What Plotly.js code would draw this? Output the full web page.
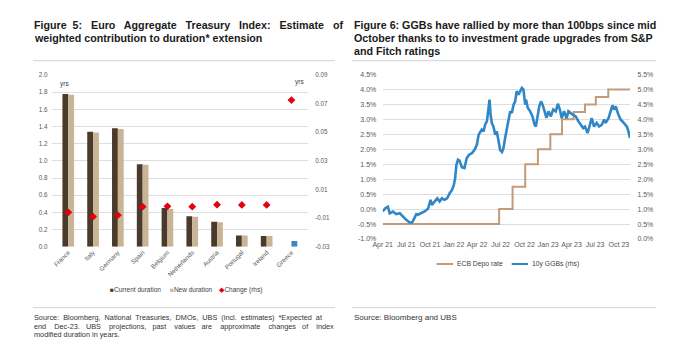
<!DOCTYPE html>
<html><head><meta charset="utf-8">
<script src="https://cdn.plot.ly/plotly-3.0.1.min.js"></script>
<style>html,body{margin:0;padding:0;background:#fff;}#chart{width:700px;height:361px;}</style>
</head><body><div id="chart"></div>
<script>
// ---------- Figure 5 data ----------
const countries = ['France','Italy','Germany','Spain','Belgium','Netherlands','Austria','Portugal','Ireland','Greece'];
const currentDuration = [1.78,1.34,1.38,0.96,0.45,0.355,0.29,0.13,0.125,0];
const newDuration = [1.77,1.33,1.37,0.955,0.44,0.35,0.285,0.13,0.125,0.066];
const changeRhs = [-0.006,-0.009,-0.008,-0.002,-0.0018,-0.002,-0.0006,-0.0008,-0.0008,0.0725];
const leftTickVals = [0,0.2,0.4,0.6,0.8,1.0,1.2,1.4,1.6,1.8,2.0];
const leftTickText = ['0.0','0.2','0.4','0.6','0.8','1.0','1.2','1.4','1.6','1.8','2.0'];
const rhsTickVals = [-0.03,-0.01,0.01,0.03,0.05,0.07,0.09];
const rhsTickText = ['-0.03','-0.01','0.01','0.03','0.05','0.07','0.09'];

// ---------- Figure 6 data ----------
const depoDates = ['2021-04-01','2022-06-25','2022-08-16','2022-10-04','2022-11-22','2023-01-09','2023-02-23','2023-04-09','2023-05-23','2023-07-04','2023-08-21','2023-11-13'];
const depoRate = [-0.5,0,0.75,1.5,2.0,2.5,3.0,3.25,3.5,3.75,4.0,4.0];
const ggbDates = ['2021-04-01','2021-04-11','2021-04-21','2021-04-28','2021-05-11','2021-05-23','2021-06-06','2021-06-18','2021-07-01','2021-07-14','2021-07-24','2021-07-31','2021-08-09','2021-08-15','2021-08-28','2021-09-10','2021-09-23','2021-10-03','2021-10-08','2021-10-18','2021-10-29','2021-11-07','2021-11-16','2021-11-26','2021-12-06','2021-12-16','2021-12-25','2022-01-01','2022-01-06','2022-01-11','2022-01-17','2022-01-23','2022-02-01','2022-02-11','2022-02-20','2022-03-01','2022-03-12','2022-03-22','2022-03-31','2022-04-07','2022-04-13','2022-04-19','2022-04-26','2022-05-02','2022-05-09','2022-05-15','2022-05-19','2022-05-23','2022-05-28','2022-06-03','2022-06-10','2022-06-16','2022-06-23','2022-06-29','2022-07-06','2022-07-12','2022-07-18','2022-07-25','2022-07-31','2022-08-07','2022-08-13','2022-08-20','2022-08-26','2022-09-01','2022-09-08','2022-09-14','2022-09-21','2022-09-27','2022-10-04','2022-10-07','2022-10-14','2022-10-23','2022-11-01','2022-11-09','2022-11-14','2022-11-22','2022-11-27','2022-12-04','2022-12-10','2022-12-18','2022-12-25','2023-01-02','2023-01-11','2023-01-20','2023-01-30','2023-02-07','2023-02-15','2023-02-22','2023-03-03','2023-03-13','2023-03-20','2023-03-29','2023-04-07','2023-04-17','2023-04-28','2023-05-07','2023-05-16','2023-05-23','2023-06-02','2023-06-11','2023-06-18','2023-06-27','2023-07-07','2023-07-17','2023-07-27','2023-08-05','2023-08-11','2023-08-22','2023-08-31','2023-09-06','2023-09-12','2023-09-19','2023-09-29','2023-10-08','2023-10-15','2023-10-25','2023-11-01','2023-11-07','2023-11-13'];
const ggbYield = [0.92,1.03,1.08,0.86,0.92,0.83,0.86,0.75,0.64,0.55,0.55,0.67,0.83,0.81,0.86,0.92,1.01,1.31,1.14,1.25,1.36,1.25,1.36,1.31,1.36,1.53,1.64,1.81,2.03,2.48,2.65,2.62,2.40,2.37,2.71,2.82,2.87,2.98,3.15,3.49,3.60,3.66,3.60,3.82,3.94,4.33,4.66,4.16,3.87,3.76,3.49,3.60,3.32,2.98,2.91,3.04,3.37,3.71,3.99,4.27,4.21,4.49,4.60,4.94,4.83,4.94,5.05,5.00,4.49,4.66,4.38,4.27,4.10,3.82,3.76,4.16,4.43,4.60,4.49,4.27,4.05,4.27,4.10,4.33,4.27,4.52,4.33,4.04,4.27,4.04,4.27,4.21,4.16,4.10,3.93,3.82,3.71,3.76,3.54,3.82,4.04,3.76,3.88,3.76,3.82,3.99,3.88,4.04,4.27,4.47,4.33,4.43,4.16,3.99,3.93,3.82,3.76,3.60,3.38];
const dateTickVals = ['2021-04-01','2021-07-01','2021-10-01','2022-01-01','2022-04-01','2022-07-01','2022-10-01','2023-01-01','2023-04-01','2023-07-01','2023-10-01'];
const dateTickText = ['Apr 21','Jul 21','Oct 21','Jan 22','Apr 22','Jul 22','Oct 22','Jan 23','Apr 23','Jul 23','Oct 23'];
const depoTickVals = [-1,-0.5,0,0.5,1,1.5,2,2.5,3,3.5,4,4.5];
const depoTickText = ['-1.0%','-0.5%','0.0%','0.5%','1.0%','1.5%','2.0%','2.5%','3.0%','3.5%','4.0%','4.5%'];
const ggbTickVals = [0,0.5,1,1.5,2,2.5,3,3.5,4,4.5,5,5.5];
const ggbTickText = ['0.0%','0.5%','1.0%','1.5%','2.0%','2.5%','3.0%','3.5%','4.0%','4.5%','5.0%','5.5%'];

// ---------- styling ----------
const W = 700, H = 361;
const px = x => x / W, py = y => 1 - y / H;
const FONT = 'Liberation Sans, Arial, sans-serif';
const C_CUR = '#4a3a2b', C_NEW = '#c9b495', C_CHG = '#e3000f', C_GR = '#3a87c4';
const C_DEPO = '#c39b79', C_GGB = '#2f87c7';
const GRID = '#dedede', TICK = '#595959';
const NBSP = '\u00A0';

const newColors = countries.map(c => c === 'Greece' ? C_GR : C_NEW);

const traces = [
  {type:'bar', name:'Current duration', x:countries, y:currentDuration, xaxis:'x', yaxis:'y', marker:{color:C_CUR}},
  {type:'bar', name:'New duration', x:countries, y:newDuration, xaxis:'x', yaxis:'y', marker:{color:newColors}},
  {type:'scatter', mode:'markers', name:'Change (rhs)', x:countries, y:changeRhs, xaxis:'x', yaxis:'y2', marker:{symbol:'diamond', size:6, color:C_CHG}},
  {type:'scatter', mode:'lines', name:'ECB Depo rate', x:depoDates, y:depoRate, xaxis:'x3', yaxis:'y3', line:{color:C_DEPO, width:2, shape:'hv'}},
  {type:'scatter', mode:'lines', name:'10y GGBs (rhs)', x:ggbDates, y:ggbYield, xaxis:'x3', yaxis:'y4', line:{color:C_GGB, width:2.6}}
];

function ann(text, x, y, size, opts) {
  return Object.assign({text, x:px(x), y:py(y), xref:'paper', yref:'paper', showarrow:false,
    xanchor:'left', yanchor:'middle', font:{family:FONT, size, color:'#1a1a1a'}}, opts || {});
}
const j = n => NBSP.repeat(n);

const annotations = [
  // Figure 5 title
  ann('<b>Figure'+j(1)+' 5:'+j(2)+' Euro'+j(2)+' Aggregate'+j(2)+' Treasury'+j(2)+' Index:'+j(2)+' Estimate'+j(2)+' of</b>', 32, 24.5, 10.7),
  ann('<b>weighted contribution to duration* extension</b>', 32, 37.5, 10.7),
  // Figure 6 title
  ann('<b>Figure 6: GGBs have rallied by more than 100bps since mid</b>', 352, 24.5, 10.7),
  ann('<b>October thanks to to investment grade upgrades from S&amp;P</b>', 352, 37.5, 10.7),
  ann('<b>and Fitch ratings</b>', 352, 50.5, 10.7),
  // sources
  ann('Source:'+j(1)+' Bloomberg,'+j(1)+' National'+j(1)+' Treasuries,'+j(1)+' DMOs,'+j(1)+' UBS'+j(1)+' (incl.'+j(1)+' estimates)'+j(1)+' *Expected'+j(1)+' at', 32, 317.5, 7.3, {font:{family:FONT,size:7.3,color:'#333'}}),
  ann('end'+j(3)+' Dec-23.'+j(2)+' UBS'+j(3)+' projections,'+j(2)+' past'+j(3)+' values'+j(2)+' are'+j(3)+' approximate'+j(3)+' changes'+j(2)+' of'+j(3)+' index', 32, 326, 7.3, {font:{family:FONT,size:7.3,color:'#333'}}),
  ann('modified duration in years.', 32, 334.5, 7.3, {font:{family:FONT,size:7.3,color:'#333'}}),
  ann('Source: Bloomberg and UBS', 352, 317.5, 8, {font:{family:FONT,size:8,color:'#333'}}),
  // yrs labels
  ann('yrs', 58, 83.5, 6.5, {font:{family:FONT,size:6.5,color:'#404040'}}),
  ann('yrs', 293, 82, 6.5, {font:{family:FONT,size:6.5,color:'#404040'}}),
  // Figure 5 legend
  ann('<span style="color:'+C_CUR+'">■</span>Current duration'+j(5)+'<span style="color:'+C_NEW+'">■</span>New duration'+j(4)+'<span style="color:'+C_CHG+'">◆</span>Change (rhs)',
      186, 290, 6.5, {xanchor:'center', font:{family:FONT,size:6.5,color:'#404040'}}),
  // Figure 6 legend texts
  ann('ECB Depo rate', 455, 264, 6.8, {font:{family:FONT,size:6.8,color:'#404040'}}),
  ann('10y GGBs (rhs)', 530, 264, 6.8, {font:{family:FONT,size:6.8,color:'#404040'}})
];

function hline(x0, x1, y, color, width) {
  return {type:'line', xref:'paper', yref:'paper', x0:px(x0), x1:px(x1), y0:py(y), y1:py(y), line:{color, width}};
}
const shapes = [
  hline(33, 335, 60.7, '#d4d4d4', 1),
  hline(33, 335, 307.7, '#d4d4d4', 1),
  hline(352, 656, 60.7, '#d4d4d4', 1),
  hline(352, 656, 307.7, '#d4d4d4', 1),
  hline(436.7, 453, 264, C_DEPO, 2),
  hline(511.7, 528, 264, C_GGB, 2)
];

const tickFont = {family:FONT, size:6.3, color:TICK};
const tickFont2 = {family:FONT, size:7, color:TICK};

const layout = {
  width:W, height:H, margin:{l:0,r:0,t:0,b:0},
  paper_bgcolor:'#fff', plot_bgcolor:'#fff',
  showlegend:false, barmode:'group', bargap:0.53, bargroupgap:0,
  font:{family:FONT},
  xaxis:{domain:[px(51.7), px(308)], anchor:'y', type:'category', tickangle:-45, tickfont:tickFont,
         showgrid:false, zeroline:false, showline:false, ticks:'', automargin:false},
  yaxis:{domain:[py(246.7), py(75)], anchor:'x', range:[0,2], tickvals:leftTickVals, ticktext:leftTickText,
         tickfont:tickFont, showgrid:true, gridcolor:GRID, gridwidth:1, zeroline:false, showline:false,
         ticks:'outside', ticklen:2, tickcolor:'rgba(0,0,0,0)', automargin:false},
  yaxis2:{overlaying:'y', anchor:'x', side:'right', range:[-0.03,0.09], tickvals:rhsTickVals, ticktext:rhsTickText,
          tickfont:tickFont, showgrid:false, zeroline:false, showline:false,
          ticks:'outside', ticklen:5, tickcolor:'rgba(0,0,0,0)', automargin:false},
  xaxis3:{domain:[px(382.7), px(630)], anchor:'y3', type:'date', range:['2021-04-01','2023-11-13'],
          tickvals:dateTickVals, ticktext:dateTickText, tickfont:tickFont2, showgrid:false, zeroline:false,
          showline:false, ticks:'', automargin:false},
  yaxis3:{domain:[py(239), py(74.5)], anchor:'x3', range:[-1,4.5], tickvals:depoTickVals, ticktext:depoTickText,
          tickfont:tickFont2, showgrid:true, gridcolor:GRID, gridwidth:1, zeroline:false, showline:false,
          ticks:'outside', ticklen:4, tickcolor:'rgba(0,0,0,0)', automargin:false},
  yaxis4:{overlaying:'y3', anchor:'x3', side:'right', range:[0,5.5], tickvals:ggbTickVals, ticktext:ggbTickText,
          tickfont:tickFont2, showgrid:false, zeroline:false, showline:false,
          ticks:'outside', ticklen:5, tickcolor:'rgba(0,0,0,0)', automargin:false},
  annotations, shapes
};

Plotly.newPlot('chart', traces, layout, {staticPlot:true, displayModeBar:false});
</script></body></html>
